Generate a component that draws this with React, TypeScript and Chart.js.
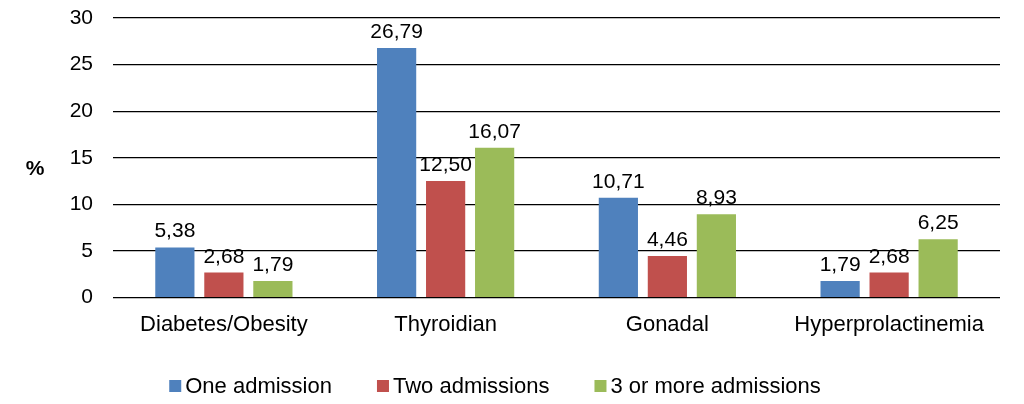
import React, { useEffect, useRef } from "react";
import { Chart, registerables } from "chart.js";

Chart.register(...registerables);

const categories = ["Diabetes/Obesity", "Thyroidian", "Gonadal", "Hyperprolactinemia"];
const seriesNames = ["One admission", "Two admissions", "3 or more admissions"];
const oneAdmission = [5.38, 26.79, 10.71, 1.79];
const twoAdmissions = [2.68, 12.5, 4.46, 2.68];
const threeOrMore = [1.79, 16.07, 8.93, 6.25];
const yTicks = [0, 5, 10, 15, 20, 25, 30];
const colors = ["#4F81BD", "#C0504D", "#9BBB59"];

const FONT = "'Liberation Sans', Arial, sans-serif";

const fmt = (v: number) => v.toFixed(2).replace(".", ",");

const labelsPlugin = {
  id: "valueLabels",
  afterDatasetsDraw(chart: any) {
    const ctx = chart.ctx;
    ctx.save();
    ctx.font = `21px ${FONT}`;
    ctx.fillStyle = "#000";
    ctx.textAlign = "center";
    ctx.textBaseline = "alphabetic";
    chart.data.datasets.forEach((ds: any, i: number) => {
      const meta = chart.getDatasetMeta(i);
      meta.data.forEach((bar: any, j: number) => {
        ctx.fillText(fmt(ds.data[j]), bar.x, bar.y - 10);
      });
    });
    // y-axis title
    ctx.font = `bold 21px ${FONT}`;
    ctx.textBaseline = "middle";
    ctx.fillText("%", 35, 169);

    // legend
    ctx.font = `22px ${FONT}`;
    ctx.textAlign = "left";
    const box = 12;
    const textOff = 16;
    const gap = 45;
    const items = chart.data.datasets.map((ds: any) => ({
      label: ds.label,
      color: ds.backgroundColor,
      w: ctx.measureText(ds.label).width,
    }));
    const total =
      items.reduce((s: number, it: any) => s + textOff + it.w, 0) + gap * (items.length - 1);
    let x = 495 - total / 2;
    const yc = 386;
    items.forEach((it: any) => {
      ctx.fillStyle = it.color;
      ctx.fillRect(x, yc - box / 2, box, box);
      ctx.fillStyle = "#000";
      ctx.fillText(it.label, x + textOff, yc + 1);
      x += textOff + it.w + gap;
    });
    ctx.restore();
  },
};

export default function App() {
  const ref = useRef<HTMLCanvasElement | null>(null);
  useEffect(() => {
    if (!ref.current) return;
    const chart = new Chart(ref.current, {
      type: "bar",
      data: {
        labels: categories,
        datasets: [oneAdmission, twoAdmissions, threeOrMore].map((d, i) => ({
          label: seriesNames[i],
          data: d,
          backgroundColor: colors[i],
          borderWidth: 0,
          categoryPercentage: 0.663,
          barPercentage: 0.8,
        })),
      },
      options: {
        animation: false,
        responsive: false,
        devicePixelRatio: 1,
        layout: { padding: { left: 0, right: 24, top: 18, bottom: 52 } },
        plugins: {
          tooltip: { enabled: false },
          legend: { display: false },
        },
        scales: {
          x: {
            afterFit: (s: any) => {
              s.paddingLeft = 0;
              s.paddingRight = 0;
            },
            grid: { display: false, drawTicks: false },
            border: { display: false },
            ticks: { color: "#000", font: { family: FONT, size: 22 }, padding: 14, maxRotation: 0 },
          },
          y: {
            min: 0,
            max: 30,
            afterFit: (s: any) => {
              s.width = 113;
              s.paddingTop = 0;
              s.paddingBottom = 0;
            },
            afterBuildTicks: (s: any) => {
              s.ticks = yTicks.map((v) => ({ value: v }));
            },
            grid: { color: "#000", lineWidth: 1.2, drawTicks: false },
            border: { display: false },
            ticks: { color: "#000", font: { family: FONT, size: 21 }, padding: 20 },
          },
        },
      },
      plugins: [labelsPlugin],
    });
    return () => chart.destroy();
  }, []);
  return (
    <div style={{ position: "absolute", left: 0, top: 0, width: 1024, height: 404, background: "#fff" }}>
      <canvas ref={ref} width={1024} height={404} style={{ width: 1024, height: 404 }} />
    </div>
  );
}
